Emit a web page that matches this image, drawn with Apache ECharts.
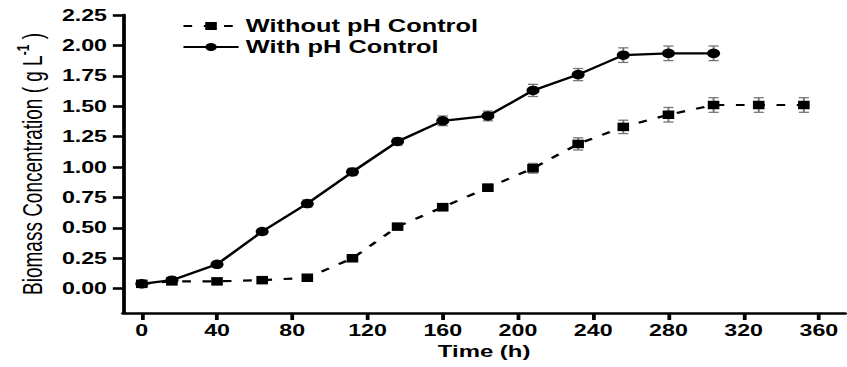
<!DOCTYPE html>
<html><head><meta charset="utf-8">
<script src="https://cdn.jsdelivr.net/npm/echarts@6/dist/echarts.min.js"></script>
<style>
html,body{margin:0;padding:0;background:#fff;overflow:hidden;}
#wrap{width:847px;height:367px;overflow:hidden;position:relative;}
#c{width:584px;height:367px;transform:scaleX(1.4503);transform-origin:0 0;}
</style></head>
<body><div id="wrap"><div id="c"></div></div>
<script>
const timeWithout = [0, 16, 40, 64, 88, 112, 136, 160, 184, 208, 232, 256, 280, 304, 328, 352];
const biomassWithout = [0.04, 0.06, 0.06, 0.07, 0.09, 0.25, 0.51, 0.67, 0.83, 0.99, 1.19, 1.33, 1.43, 1.51, 1.51, 1.51];
const errWithout = [0.01, 0.01, 0.01, 0.01, 0.01, 0.02, 0.02, 0.03, 0.03, 0.04, 0.05, 0.055, 0.06, 0.06, 0.06, 0.06];
const timeWith = [0, 16, 40, 64, 88, 112, 136, 160, 184, 208, 232, 256, 280, 304];
const biomassWith = [0.04, 0.07, 0.20, 0.47, 0.70, 0.96, 1.21, 1.38, 1.42, 1.63, 1.76, 1.92, 1.935, 1.935];
const errWith = [0.01, 0.01, 0.02, 0.02, 0.03, 0.03, 0.03, 0.04, 0.04, 0.05, 0.05, 0.06, 0.06, 0.06];
const xTicks = [0, 40, 80, 120, 160, 200, 240, 280, 320, 360];
const yTicks = [0, 0.25, 0.5, 0.75, 1.0, 1.25, 1.5, 1.75, 2.0, 2.25];
const seriesNames = ['Without pH Control', 'With pH Control'];

const FONT = "'Liberation Sans', Arial, sans-serif";
const chart = echarts.init(document.getElementById('c'), null, {renderer: 'svg'});

function pairs(xs, ys) { return xs.map((x, i) => [x, ys[i]]); }
function errData(xs, ys, es) { return xs.map((x, i) => [x, ys[i] - es[i], ys[i] + es[i]]); }
function errRender(params, api) {
  const x = api.value(0);
  const pLo = api.coord([x, api.value(1)]);
  const pHi = api.coord([x, api.value(2)]);
  const hw = 3.5;
  const style = {stroke: '#777', lineWidth: 1.3, fill: null};
  return {type: 'group', children: [
    {type: 'line', shape: {x1: pLo[0], y1: pLo[1], x2: pHi[0], y2: pHi[1]}, style: style},
    {type: 'line', shape: {x1: pLo[0] - hw, y1: pLo[1], x2: pLo[0] + hw, y2: pLo[1]}, style: style},
    {type: 'line', shape: {x1: pHi[0] - hw, y1: pHi[1], x2: pHi[0] + hw, y2: pHi[1]}, style: style}
  ]};
}

chart.setOption({
  animation: false,
  backgroundColor: '#fff',
  textStyle: {fontFamily: FONT},
  grid: {left: 84.8, right: 1.2, top: 15, bottom: 54, containLabel: false},
  legend: {
    orient: 'vertical', left: 120.5, top: 12, itemWidth: 38, itemHeight: 10, itemGap: 3,
    textStyle: {fontFamily: FONT, fontWeight: 'bold', fontSize: 17.5, color: '#000'},
    data: seriesNames
  },
  xAxis: {
    type: 'value', min: -10, max: 374,
    name: 'Time (h)', nameLocation: 'middle', nameGap: 28,
    nameTextStyle: {fontFamily: FONT, fontWeight: 'bold', fontSize: 16.5, color: '#000'},
    axisLine: {show: true, onZero: false, lineStyle: {color: '#000', width: 2.6}},
    axisTick: {show: true, length: 7, lineStyle: {color: '#000', width: 2.6}, customValues: xTicks},
    axisLabel: {fontFamily: FONT, fontWeight: 'bold', fontSize: 16, color: '#000', margin: 9, customValues: xTicks},
    splitLine: {show: false}
  },
  yAxis: {
    type: 'value', min: -0.2, max: 2.25,
    name: '{a|Biomass Concentration ( g L}{s|-1}{a| )}', nameLocation: 'middle', nameGap: 50, nameRotate: 90,
    nameTextStyle: {
      rich: {
        a: {fontFamily: FONT, fontSize: 19, color: '#000', verticalAlign: 'bottom', lineHeight: 22},
        s: {fontFamily: FONT, fontSize: 12, color: '#000', fontWeight: 'bold', verticalAlign: 'top', lineHeight: 22}
      }
    },
    axisLine: {show: true, onZero: false, lineStyle: {color: '#000', width: 2.6}},
    axisTick: {show: true, length: 7, lineStyle: {color: '#000', width: 2.6}, customValues: yTicks},
    axisLabel: {fontFamily: FONT, fontWeight: 'bold', fontSize: 16, color: '#000', margin: 11, customValues: yTicks,
      formatter: v => Number(v).toFixed(2)},
    splitLine: {show: false}
  },
  series: [
    {type: 'custom', name: 'errWithout', renderItem: errRender, data: errData(timeWithout, biomassWithout, errWithout), z: 1, silent: true},
    {type: 'custom', name: 'errWith', renderItem: errRender, data: errData(timeWith, biomassWith, errWith), z: 1, silent: true},
    {
      type: 'line', name: seriesNames[0], data: pairs(timeWithout, biomassWithout), z: 3,
      symbol: 'rect', symbolSize: [8, 8.5], showSymbol: true,
      itemStyle: {color: '#000'}, lineStyle: {color: '#000', width: 2.2, type: [6, 8]}
    },
    {
      type: 'line', name: seriesNames[1], data: pairs(timeWith, biomassWith), z: 4,
      symbol: 'circle', symbolSize: [9, 9.5], showSymbol: true,
      itemStyle: {color: '#000'}, lineStyle: {color: '#000', width: 2.2}
    }
  ]
});
</script>
</body></html>
